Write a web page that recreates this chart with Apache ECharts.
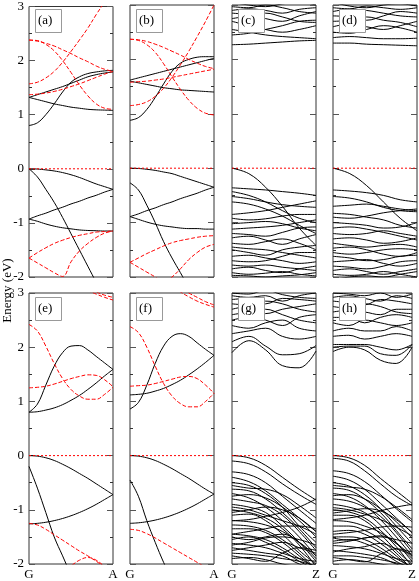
<!DOCTYPE html>
<html>
<head>
<meta charset="utf-8">
<script src="https://cdn.jsdelivr.net/npm/echarts@6/dist/echarts.min.js"></script>
<style>
  html, body { margin: 0; padding: 0; background: #fff; }
  #chart { width: 419px; height: 581px; }
</style>
</head>
<body>
<div id="chart"></div>
<script>
// k-path samples
const k11 = [0, 0.1, 0.2, 0.3, 0.4, 0.5, 0.6, 0.7, 0.8, 0.9, 1.0];
const k6 = [0, 0.2, 0.4, 0.6, 0.8, 1.0];
const panelNames = ["(a)", "(b)", "(c)", "(d)", "(e)", "(f)", "(g)", "(h)"];
const yTicks = ["-2", "-1", "0", "1", "2", "3"];

// (a) bands on k11
const aBlack = [
  [0.8, 0.85, 1.0, 1.2, 1.42, 1.6, 1.7, 1.76, 1.79, 1.81, 1.82],
  [1.32, 1.37, 1.42, 1.47, 1.52, 1.58, 1.64, 1.7, 1.74, 1.77, 1.79],
  [1.32, 1.28, 1.24, 1.2, 1.17, 1.14, 1.12, 1.1, 1.09, 1.085, 1.08],
  [0, -0.005, -0.02, -0.04, -0.07, -0.11, -0.16, -0.22, -0.28, -0.33, -0.38],
  [0, -0.15, -0.38, -0.62, -0.9, -1.2, -1.5, -1.8, -2.1, -2.4, -2.7],
  [-0.93, -0.87, -0.82, -0.76, -0.71, -0.65, -0.6, -0.54, -0.49, -0.43, -0.38],
  [-0.93, -0.97, -1.02, -1.06, -1.09, -1.11, -1.13, -1.14, -1.145, -1.15, -1.15]
];
const aRed = [
  [1.57, 1.6, 1.68, 1.8, 1.97, 2.17, 2.38, 2.6, 2.85, 3.08, 3.3],
  [2.38, 2.36, 2.32, 2.27, 2.2, 2.13, 2.05, 1.98, 1.9, 1.84, 1.8],
  [2.38, 2.37, 2.3, 2.18, 2.0, 1.78, 1.55, 1.35, 1.2, 1.12, 1.1],
  [1.37, 1.38, 1.4, 1.43, 1.47, 1.52, 1.57, 1.63, 1.69, 1.75, 1.8],
  [-1.65, -1.55, -1.46, -1.38, -1.32, -1.27, -1.23, -1.2, -1.17, -1.16, -1.15],
  [-1.65, -1.74, -1.83, -1.92, -1.99, -1.72, -1.52, -1.38, -1.27, -1.19, -1.15]
];

// (b) bands on k11
const bBlack = [
  [0.88, 0.93, 1.08, 1.3, 1.55, 1.78, 1.93, 2.0, 2.04, 2.05, 2.05],
  [1.62, 1.66, 1.7, 1.74, 1.78, 1.82, 1.86, 1.9, 1.94, 1.98, 2.02],
  [1.6, 1.57, 1.54, 1.51, 1.48, 1.46, 1.44, 1.43, 1.42, 1.41, 1.4],
  [0, -0.005, -0.02, -0.04, -0.07, -0.1, -0.15, -0.2, -0.25, -0.3, -0.35],
  [-0.27, -0.4, -0.68, -1.0, -1.35, -1.65, -1.92, -2.2, -2.5, -2.8, -3.1],
  [-0.89, -0.84, -0.78, -0.73, -0.67, -0.62, -0.56, -0.51, -0.46, -0.4, -0.35],
  [-0.89, -0.94, -0.99, -1.03, -1.06, -1.08, -1.1, -1.11, -1.11, -1.12, -1.12]
];
const bRed = [
  [1.15, 1.17, 1.22, 1.32, 1.47, 1.67, 1.9, 2.15, 2.42, 2.7, 3.0],
  [2.37, 2.36, 2.33, 2.28, 2.22, 2.15, 2.08, 2.0, 1.93, 1.87, 1.83],
  [2.37, 2.35, 2.27, 2.13, 1.92, 1.68, 1.45, 1.25, 1.1, 1.01, 0.98],
  [1.58, 1.59, 1.6, 1.62, 1.64, 1.67, 1.7, 1.73, 1.76, 1.79, 1.82],
  [-1.73, -1.65, -1.57, -1.5, -1.43, -1.37, -1.33, -1.3, -1.27, -1.25, -1.24],
  [-1.73, -1.82, -1.91, -2.0, -2.1, -2.0, -1.85, -1.68, -1.55, -1.45, -1.4]
];

// (e) bands on k11
const eBlack = [
  [0.8, 0.95, 1.3, 1.65, 1.9, 2.02, 2.03, 1.95, 1.83, 1.71, 1.59],
  [0.8, 0.81, 0.84, 0.88, 0.94, 1.02, 1.11, 1.22, 1.34, 1.47, 1.59],
  [0, -0.01, -0.04, -0.09, -0.16, -0.24, -0.33, -0.42, -0.52, -0.62, -0.72],
  [-0.2, -0.6, -1.05, -1.5, -1.85, -2.2, -2.5, -2.8, -3.1, -3.4, -3.7],
  [-1.26, -1.25, -1.23, -1.2, -1.16, -1.11, -1.05, -0.98, -0.9, -0.81, -0.72]
];
const eRed = [
  [2.42, 2.3, 2.02, 1.7, 1.42, 1.22, 1.1, 1.04, 1.04, 1.13, 1.26],
  [1.25, 1.26, 1.28, 1.32, 1.37, 1.42, 1.46, 1.49, 1.48, 1.4, 1.27],
  [4.0, 3.85, 3.7, 3.55, 3.4, 3.27, 3.15, 3.05, 2.98, 2.92, 2.87],
  [4.1, 3.95, 3.8, 3.65, 3.5, 3.36, 3.22, 3.1, 3.02, 2.96, 2.92],
  [-1.25, -1.28, -1.36, -1.46, -1.56, -1.66, -1.76, -1.85, -1.95, -2.05, -2.15],
  [-2.6, -2.45, -2.3, -2.18, -2.1, -2.03, -1.93, -1.88, -1.93, -2.05, -2.2]
];

// (f) bands on k11
const fBlack = [
  [0.86, 0.98, 1.3, 1.7, 2.02, 2.2, 2.25, 2.2, 2.08, 1.96, 1.85],
  [1.12, 1.13, 1.15, 1.19, 1.24, 1.31, 1.39, 1.49, 1.6, 1.72, 1.85],
  [0, -0.01, -0.04, -0.09, -0.16, -0.24, -0.33, -0.42, -0.52, -0.62, -0.71],
  [-0.45, -0.75, -1.2, -1.6, -1.97, -2.3, -2.6, -2.9, -3.2, -3.5, -3.8],
  [-1.25, -1.24, -1.22, -1.19, -1.15, -1.1, -1.04, -0.97, -0.89, -0.8, -0.71]
];
const fRed = [
  [2.38, 2.27, 2.0, 1.65, 1.33, 1.1, 0.96, 0.9, 0.9, 1.0, 1.15],
  [1.28, 1.29, 1.3, 1.33, 1.37, 1.41, 1.45, 1.46, 1.42, 1.3, 1.15],
  [4.0, 3.8, 3.6, 3.42, 3.27, 3.13, 3.02, 2.93, 2.85, 2.79, 2.74],
  [4.1, 3.9, 3.7, 3.52, 3.36, 3.22, 3.1, 3.0, 2.92, 2.84, 2.78],
  [-1.36, -1.38, -1.44, -1.52, -1.61, -1.7, -1.79, -1.88, -1.97, -2.06, -2.15]
];

// (c) bands on k6
const cBlack = [
  [2.27, 2.28, 2.3, 2.32, 2.34, 2.35],
  [2.55, 2.5, 2.45, 2.42, 2.4, 2.38],
  [2.45, 2.48, 2.55, 2.62, 2.7, 2.72],
  [2.7, 2.62, 2.55, 2.5, 2.55, 2.62],
  [2.75, 2.8, 2.85, 2.78, 2.7, 2.68],
  [2.85, 2.82, 2.75, 2.7, 2.8, 2.88],
  [2.9, 2.93, 2.9, 2.85, 2.92, 2.95],
  [2.97, 2.95, 3.0, 2.95, 2.88, 2.85],
  [3.05, 3.0, 2.97, 3.02, 3.05, 3.0],
  [0, -0.1, -0.35, -0.7, -1.1, -1.42],
  [-0.36, -0.38, -0.4, -0.43, -0.46, -0.5],
  [-0.43, -0.5, -0.62, -0.78, -0.92, -1.0],
  [-0.52, -0.56, -0.62, -0.67, -0.7, -0.72],
  [-0.62, -0.66, -0.75, -0.88, -1.05, -1.2],
  [-0.85, -0.82, -0.78, -0.72, -0.66, -0.6],
  [-0.92, -0.95, -0.93, -0.88, -0.85, -0.85],
  [-1.02, -1.0, -0.98, -1.02, -1.1, -1.15],
  [-1.12, -1.1, -1.08, -1.05, -1.0, -0.95],
  [-1.2, -1.22, -1.25, -1.18, -1.1, -1.08],
  [-1.28, -1.25, -1.32, -1.4, -1.3, -1.22],
  [-1.38, -1.4, -1.35, -1.3, -1.38, -1.5],
  [-1.45, -1.48, -1.5, -1.55, -1.6, -1.65],
  [-1.5, -1.55, -1.6, -1.5, -1.45, -1.42],
  [-1.62, -1.6, -1.65, -1.7, -1.75, -1.72],
  [-1.7, -1.72, -1.7, -1.62, -1.55, -1.55],
  [-1.78, -1.8, -1.78, -1.82, -1.85, -1.88],
  [-1.85, -1.82, -1.88, -1.92, -1.85, -1.8],
  [-1.92, -1.95, -1.93, -1.9, -1.95, -1.98],
  [-1.97, -1.98, -2.0, -1.98, -1.96, -1.92]
];

// (d) bands on k6
const dBlack = [
  [2.3, 2.3, 2.28, 2.27, 2.26, 2.25],
  [2.4, 2.42, 2.4, 2.38, 2.38, 2.39],
  [2.5, 2.48, 2.55, 2.62, 2.58, 2.5],
  [2.6, 2.65, 2.6, 2.55, 2.62, 2.7],
  [2.7, 2.72, 2.78, 2.72, 2.68, 2.6],
  [2.8, 2.78, 2.72, 2.8, 2.88, 2.85],
  [2.88, 2.92, 2.9, 2.85, 2.8, 2.78],
  [2.95, 2.93, 2.98, 2.95, 2.92, 2.95],
  [3.05, 2.98, 2.95, 3.0, 3.02, 2.98],
  [0, -0.1, -0.32, -0.62, -0.92, -1.15],
  [-0.4, -0.42, -0.45, -0.5, -0.58, -0.62],
  [-0.52, -0.55, -0.62, -0.72, -0.78, -0.8],
  [-0.7, -0.68, -0.66, -0.7, -0.75, -0.78],
  [-0.83, -0.85, -0.9, -0.95, -1.05, -1.1],
  [-0.9, -0.92, -0.88, -0.82, -0.78, -0.75],
  [-1.0, -1.02, -1.05, -1.1, -1.08, -1.0],
  [-1.1, -1.08, -1.12, -1.18, -1.25, -1.32],
  [-1.2, -1.22, -1.2, -1.15, -1.2, -1.25],
  [-1.3, -1.28, -1.32, -1.38, -1.35, -1.28],
  [-1.38, -1.42, -1.45, -1.42, -1.4, -1.45],
  [-1.47, -1.45, -1.5, -1.58, -1.62, -1.55],
  [-1.55, -1.58, -1.55, -1.5, -1.48, -1.5],
  [-1.62, -1.65, -1.7, -1.68, -1.62, -1.6],
  [-1.72, -1.7, -1.68, -1.75, -1.8, -1.75],
  [-1.8, -1.82, -1.85, -1.8, -1.72, -1.7],
  [-1.88, -1.85, -1.9, -1.95, -1.9, -1.85],
  [-1.95, -1.97, -1.95, -1.9, -1.95, -2.0],
  [-2.05, -2.0, -1.98, -2.0, -1.95, -1.9]
];

// (g) bands on k6
const gBlack = [
  [1.9, 2.12, 1.95, 1.66, 1.62, 1.93],
  [2.1, 2.2, 2.02, 1.86, 1.88, 2.03],
  [2.25, 2.3, 2.35, 2.2, 2.15, 2.2],
  [2.4, 2.35, 2.45, 2.5, 2.35, 2.3],
  [2.5, 2.55, 2.5, 2.4, 2.55, 2.6],
  [2.6, 2.65, 2.7, 2.6, 2.5, 2.45],
  [2.7, 2.75, 2.62, 2.7, 2.75, 2.8],
  [2.8, 2.78, 2.85, 2.8, 2.7, 2.65],
  [2.88, 2.9, 2.8, 2.9, 2.88, 2.85],
  [2.95, 2.92, 2.95, 2.85, 2.95, 3.0],
  [3.0, 2.98, 3.05, 2.97, 2.92, 2.9],
  [0, -0.04, -0.18, -0.4, -0.62, -0.82],
  [-0.1, -0.15, -0.3, -0.52, -0.72, -0.9],
  [-0.3, -0.35, -0.5, -0.75, -1.0, -1.25],
  [-0.4, -0.48, -0.65, -0.9, -1.15, -1.4],
  [-0.5, -0.55, -0.7, -0.95, -1.3, -1.6],
  [-0.55, -0.6, -0.62, -0.72, -0.92, -1.15],
  [-0.62, -0.65, -0.8, -1.05, -1.35, -1.7],
  [-0.7, -0.78, -0.95, -1.2, -1.5, -1.85],
  [-0.75, -0.72, -0.78, -0.95, -1.2, -1.5],
  [-0.8, -0.85, -0.92, -1.1, -1.4, -1.75],
  [-0.9, -0.95, -1.05, -1.3, -1.6, -1.95],
  [-0.95, -1.0, -1.1, -1.2, -1.3, -1.45],
  [-1.0, -1.05, -1.15, -1.35, -1.65, -2.05],
  [-1.05, -1.0, -0.95, -1.0, -1.15, -1.4],
  [-1.1, -1.08, -1.2, -1.45, -1.75, -2.0],
  [-1.2, -1.22, -1.28, -1.4, -1.6, -1.9],
  [-1.28, -1.3, -1.38, -1.55, -1.8, -2.1],
  [-1.35, -1.35, -1.42, -1.6, -1.85, -2.1],
  [-1.45, -1.48, -1.55, -1.7, -1.9, -2.05],
  [-1.5, -1.55, -1.5, -1.45, -1.6, -1.85],
  [-1.55, -1.5, -1.6, -1.75, -1.95, -2.1],
  [-1.62, -1.65, -1.7, -1.8, -1.9, -1.95],
  [-1.7, -1.75, -1.8, -1.85, -2.0, -2.1],
  [-1.75, -1.7, -1.65, -1.6, -1.7, -1.8],
  [-1.8, -1.82, -1.85, -1.9, -1.95, -2.05],
  [-1.85, -1.9, -1.95, -1.8, -1.7, -1.75],
  [-1.9, -1.88, -1.92, -2.0, -2.05, -2.1],
  [-1.2, -1.18, -1.12, -1.05, -0.95, -0.8],
  [-1.45, -1.4, -1.35, -1.3, -1.3, -1.35],
  [-1.65, -1.6, -1.52, -1.5, -1.55, -1.65]
];

// (h) bands on k6
const hBlack = [
  [1.92, 2.0, 1.95, 1.76, 1.7, 2.0],
  [2.05, 2.05, 2.05, 2.0, 1.95, 2.05],
  [2.0, 2.02, 2.02, 1.88, 1.85, 2.05],
  [2.2, 2.22, 2.15, 2.2, 2.25, 2.2],
  [2.3, 2.35, 2.3, 2.3, 2.38, 2.3],
  [2.45, 2.4, 2.5, 2.45, 2.4, 2.45],
  [2.55, 2.55, 2.45, 2.55, 2.6, 2.55],
  [2.65, 2.68, 2.65, 2.6, 2.7, 2.7],
  [2.75, 2.72, 2.8, 2.75, 2.65, 2.62],
  [2.85, 2.82, 2.78, 2.88, 2.85, 2.8],
  [2.92, 2.95, 2.9, 2.85, 2.95, 2.9],
  [3.0, 2.98, 2.95, 3.0, 2.92, 2.98],
  [0, -0.04, -0.18, -0.42, -0.65, -0.88],
  [-0.05, -0.1, -0.28, -0.52, -0.75, -0.92],
  [-0.28, -0.33, -0.48, -0.72, -0.98, -1.22],
  [-0.38, -0.45, -0.62, -0.88, -1.15, -1.42],
  [-0.5, -0.56, -0.72, -0.98, -1.3, -1.62],
  [-0.55, -0.58, -0.62, -0.75, -0.95, -1.18],
  [-0.6, -0.64, -0.8, -1.05, -1.38, -1.72],
  [-0.7, -0.76, -0.92, -1.18, -1.5, -1.85],
  [-0.74, -0.72, -0.8, -0.98, -1.22, -1.52],
  [-0.8, -0.84, -0.95, -1.12, -1.42, -1.78],
  [-0.9, -0.95, -1.05, -1.28, -1.6, -1.95],
  [-0.96, -1.0, -1.08, -1.18, -1.32, -1.48],
  [-1.0, -1.04, -1.15, -1.38, -1.68, -2.05],
  [-1.06, -1.02, -0.98, -1.02, -1.18, -1.42],
  [-1.1, -1.1, -1.2, -1.45, -1.75, -2.0],
  [-1.2, -1.22, -1.3, -1.42, -1.62, -1.9],
  [-1.3, -1.3, -1.38, -1.55, -1.8, -2.1],
  [-1.4, -1.38, -1.45, -1.62, -1.85, -2.1],
  [-1.5, -1.5, -1.55, -1.7, -1.9, -2.05],
  [-1.52, -1.56, -1.52, -1.48, -1.62, -1.86],
  [-1.58, -1.55, -1.62, -1.76, -1.95, -2.1],
  [-1.66, -1.68, -1.72, -1.8, -1.9, -1.95],
  [-1.75, -1.78, -1.82, -1.88, -2.0, -2.1],
  [-1.78, -1.72, -1.68, -1.62, -1.72, -1.82],
  [-1.85, -1.85, -1.88, -1.92, -1.98, -2.05],
  [-1.88, -1.92, -1.96, -1.82, -1.72, -1.78],
  [-1.95, -1.92, -1.95, -2.0, -2.05, -2.1],
  [-1.18, -1.15, -1.1, -1.02, -0.95, -0.9],
  [-1.45, -1.42, -1.38, -1.32, -1.3, -1.32],
  [-1.62, -1.58, -1.52, -1.5, -1.55, -1.62]
];

const fermi = [0, 0];

const panels = [
  { black: aBlack, red: aRed, k: k11, end: "A" },
  { black: bBlack, red: bRed, k: k11, end: "A" },
  { black: cBlack, red: [], k: k6, end: "Z" },
  { black: dBlack, red: [], k: k6, end: "Z" },
  { black: eBlack, red: eRed, k: k11, end: "A" },
  { black: fBlack, red: fRed, k: k11, end: "A" },
  { black: gBlack, red: [], k: k6, end: "Z" },
  { black: hBlack, red: [], k: k6, end: "Z" }
];

const lefts = [29, 130, 232, 333];
const tops = [5, 293];
const pw = 84, ph = 272;
const serif = "Liberation Serif";

const chart = echarts.init(document.getElementById("chart"), null, { renderer: "canvas" });

const grids = [], xAxes = [], yAxes = [], series = [], graphics = [];

panels.forEach((p, i) => {
  const col = i % 4, row = Math.floor(i / 4);
  grids.push({
    left: lefts[col], top: tops[row], width: pw, height: ph,
    show: true, borderColor: "#333", borderWidth: 1, backgroundColor: "transparent"
  });
  xAxes.push({
    type: "value", gridIndex: i, min: 0, max: 1, interval: 1,
    axisLine: { show: false }, axisTick: { show: false }, splitLine: { show: false },
    axisLabel: {
      show: row === 1, margin: 4, color: "#000", fontFamily: serif, fontSize: 13,
      formatter: v => (v === 0 ? "G" : v === 1 ? p.end : "")
    }
  });
  ["left", "right"].forEach(pos => {
    yAxes.push({
      type: "value", gridIndex: i, min: -2, max: 3, interval: 1, position: pos,
      axisLine: { show: false }, splitLine: { show: false },
      axisTick: { show: true, inside: true, length: 6, lineStyle: { color: "#555", width: 1 } },
      minorTick: { show: true, splitNumber: 2, length: 3, lineStyle: { color: "#333", width: 1 } },
      axisLabel: {
        show: pos === "left" && col === 0, margin: 5, color: "#000",
        fontFamily: serif, fontSize: 13,
        formatter: v => yTicks[v + 2]
      }
    });
  });
  const yIdx = i * 2;
  p.black.forEach(b => series.push({
    type: "line", xAxisIndex: i, yAxisIndex: yIdx, symbol: "none", smooth: 0.4,
    silent: true, animation: false, z: 2,
    lineStyle: { color: "#000", width: 1 },
    data: p.k.map((x, j) => [x, b[j]])
  }));
  p.red.forEach(b => series.push({
    type: "line", xAxisIndex: i, yAxisIndex: yIdx, symbol: "none", smooth: 0.4,
    silent: true, animation: false, z: 2,
    lineStyle: { color: "#ff0000", width: 1, type: [4, 2] },
    data: p.k.map((x, j) => [x, b[j]])
  }));
  series.push({
    type: "line", xAxisIndex: i, yAxisIndex: yIdx, symbol: "none", silent: true, animation: false, z: 3,
    lineStyle: { color: "#ff0000", width: 1, type: [2, 2] },
    data: [[0, fermi[0]], [1, fermi[1]]]
  });
  // boxed panel label, drawn over the bands
  graphics.push({
    type: "rect", left: lefts[col] + 6, top: tops[row] + 4, z: 100,
    shape: { width: 26, height: 23 },
    style: { fill: "#fff", stroke: "#999", lineWidth: 1 }
  });
  graphics.push({
    type: "text", left: lefts[col] + 9, top: tops[row] + 9, z: 101,
    style: { text: panelNames[i], fill: "#000", font: "13px " + serif }
  });
});

graphics.push({
  type: "text", left: 1, top: "middle", rotation: Math.PI / 2, z: 100,
  style: { text: "Energy (eV)", fill: "#000", font: "13px " + serif }
});

chart.setOption({
  backgroundColor: "#fff",
  animation: false,
  grid: grids,
  xAxis: xAxes,
  yAxis: yAxes,
  series: series,
  graphic: graphics
});
</script>
</body>
</html>
